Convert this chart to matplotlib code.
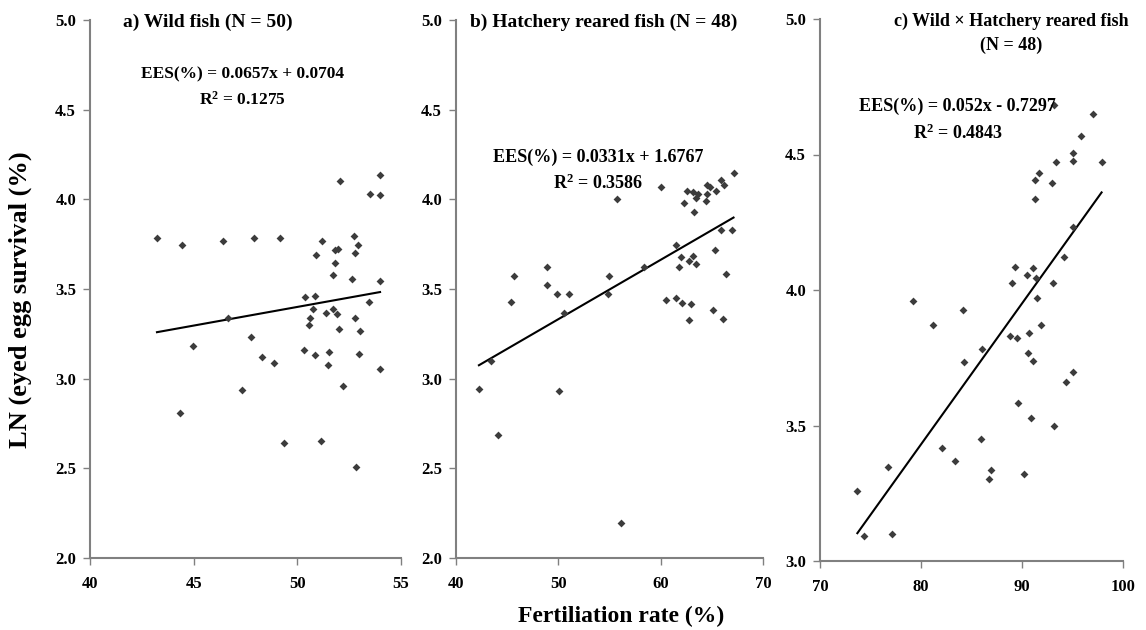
import matplotlib
matplotlib.use("Agg")
import matplotlib.pyplot as plt
import numpy as np

plt.rcParams['font.family'] = ['Liberation Serif', 'DejaVu Serif']
plt.rcParams['font.weight'] = 'bold'
plt.rcParams.update({'mathtext.fontset': 'custom', 'mathtext.rm': 'Liberation Serif:bold',
                     'mathtext.bf': 'Liberation Serif:bold', 'mathtext.it': 'Liberation Serif:bold'})

# ---- data ----
wild_x = [43.23, 44.44, 44.98, 44.34, 46.42, 47.91, 49.15, 52.05, 51.21, 50.92,
          51.82, 51.95, 51.80, 51.71, 52.64, 50.37, 50.84, 50.76, 51.71, 51.38,
          51.90, 50.60, 50.55, 52.00, 46.66, 47.77, 48.31, 48.89, 50.32, 50.84,
          51.53, 51.48, 52.22, 47.35, 49.36, 51.16, 53.99, 53.52, 53.99, 52.72,
          52.93, 52.77, 53.99, 53.47, 52.78, 53.02, 52.98, 53.99, 52.83]
wild_y = [3.786, 3.747, 3.180, 2.810, 3.769, 3.786, 3.786, 4.100, 3.765, 3.690,
          3.715, 3.725, 3.647, 3.578, 3.555, 3.457, 3.460, 3.390, 3.390, 3.364,
          3.358, 3.338, 3.300, 3.276, 3.338, 3.234, 3.123, 3.090, 3.160, 3.134,
          3.148, 3.074, 2.960, 2.935, 2.640, 2.650, 4.133, 4.031, 4.026, 3.797,
          3.743, 3.700, 3.544, 3.425, 3.338, 3.265, 3.139, 3.052, 2.505]

hatch_x = [55.74, 48.85, 45.66, 48.85, 45.37, 49.89, 51.09, 50.51, 54.96, 54.90,
           43.38, 42.24, 50.05, 44.13, 60.07, 67.12, 62.57, 63.19, 63.61, 63.48,
           62.24, 63.29, 64.52, 64.78, 64.55, 64.46, 65.43, 65.92, 66.15, 65.92,
           66.96, 61.49, 65.34, 61.95, 61.76, 62.73, 63.19, 63.41, 58.34, 66.37,
           60.55, 61.49, 62.05, 63.00, 65.07, 66.12, 62.80, 56.10]
hatch_y = [4.001, 3.624, 3.570, 3.522, 3.425, 3.470, 3.470, 3.366, 3.570, 3.470,
           3.100, 2.944, 2.933, 2.688, 4.071, 4.148, 4.049, 4.040, 4.029, 4.005,
           3.982, 3.932, 4.081, 4.070, 4.032, 3.992, 4.047, 4.107, 4.081, 3.830,
           3.830, 3.747, 3.719, 3.681, 3.624, 3.657, 3.684, 3.641, 3.624, 3.585,
           3.440, 3.450, 3.423, 3.414, 3.383, 3.332, 3.329, 2.194]

cross_x = [97.01, 95.85, 95.06, 95.06, 97.88, 93.34, 92.98, 91.66, 91.26, 91.26,
           93.14, 95.06, 94.14, 89.35, 91.09, 90.50, 91.39, 89.05, 93.02, 91.52,
           79.16, 84.12, 81.14, 91.92, 88.81, 89.47, 90.66, 86.00, 90.60, 91.09,
           84.25, 95.06, 94.31, 89.60, 90.93, 93.17, 85.90, 82.10, 83.39, 76.75,
           86.89, 90.24, 86.70, 73.70, 74.39, 77.17]
cross_y = [4.648, 4.569, 4.504, 4.476, 4.473, 4.473, 4.394, 4.431, 4.406, 4.336,
           4.683, 4.234, 4.121, 4.086, 4.080, 4.055, 4.045, 4.025, 4.025, 3.972,
           3.961, 3.926, 3.871, 3.871, 3.830, 3.823, 3.840, 3.784, 3.766, 3.737,
           3.734, 3.699, 3.659, 3.582, 3.529, 3.499, 3.450, 3.418, 3.369, 3.348,
           3.335, 3.320, 3.301, 3.259, 3.093, 3.101]

# trend line coefficients (slope, intercept) as drawn
fit_a = [0.0208, 2.36]
fit_b = [0.0331, 1.6767]
fit_c = [0.052, -0.7297]

titles = ["a) Wild fish (N = 50)", "b) Hatchery reared fish (N = 48)",
          "c) Wild \u00d7 Hatchery reared fish\n(N = 48)"]
equations = ["EES(%) = 0.0657x + 0.0704", "EES(%) = 0.0331x + 1.6767",
             "EES(%) = 0.052x - 0.7297"]
r2_texts = ["R$^{\\mathbf{2}}$ = 0.1275", "R$^{\\mathbf{2}}$ = 0.3586",
            "R$^{\\mathbf{2}}$ = 0.4843"]
xticks_list = [[40, 45, 50, 55], [40, 50, 60, 70], [70, 80, 90, 100]]
yticks_ab = [2.0, 2.5, 3.0, 3.5, 4.0, 4.5, 5.0]
yticks_c = [3.0, 3.5, 4.0, 4.5, 5.0]

fig = plt.figure(figsize=(11.46, 6.30), dpi=100)
W, H = 1146, 630
boxes = [(90, 401), (456, 763), (820, 1123)]
ybot = [558, 558, 561]
ytop = [20, 20, 19]

datasets = [(wild_x, wild_y, fit_a), (hatch_x, hatch_y, fit_b), (cross_x, cross_y, fit_c)]
eq_pos = [(0.49, 0.898, 0.851, 12.5), (0.464, 0.745, 0.697, 13), (0.455, 0.838, 0.79, 13)]
title_pos = [(0.106, 0.996, 'left', 14), (0.046, 0.996, 'left', 14), (0.63, 0.974, 'center', 13)]

for i, ((x0, x1), yb, yt, (xs, ys, fit)) in enumerate(zip(boxes, ybot, ytop, datasets)):
    ax = fig.add_axes([x0 / W, 1 - yb / H, (x1 - x0) / W, (yb - yt) / H])
    ax.scatter(xs, ys, marker='D', s=16, color='#3c3c3c', zorder=3, linewidths=0)
    lx = np.array([min(xs), max(xs)])
    ax.plot(lx, fit[0] * lx + fit[1], color='black', lw=1.5, zorder=2)
    xt = xticks_list[i]
    ax.set_xlim(xt[0], xt[-1])
    ax.set_xticks(xt)
    if i < 2:
        ax.set_ylim(2.0, 5.0)
        ax.set_yticks(yticks_ab)
    else:
        ax.set_ylim(3.0, 5.0)
        ax.set_yticks(yticks_c)
    ax.yaxis.set_major_formatter(matplotlib.ticker.FormatStrFormatter('%.1f'))
    for s in ['top', 'right']:
        ax.spines[s].set_visible(False)
    for s in ['left', 'bottom']:
        ax.spines[s].set_color('#808080')
        ax.spines[s].set_linewidth(1.5)
    ax.tick_params(axis='both', direction='out', length=5, width=1, color='#808080',
                   labelsize=12, pad=5)
    ax.tick_params(axis='x', pad=8)
    for lab in ax.get_xticklabels() + ax.get_yticklabels():
        lab.set_fontweight('bold')
    tx, ty, ha, fs = title_pos[i]
    ax.text(tx, ty, titles[i], transform=ax.transAxes, ha=ha, va='center',
            fontsize=fs, fontweight='bold', linespacing=1.5, multialignment='center',
            clip_on=False)
    ex, ey, ry, efs = eq_pos[i]
    ax.text(ex, ey, equations[i], transform=ax.transAxes, ha='center', va='center',
            fontsize=efs, fontweight='bold')
    ax.text(ex, ry, r2_texts[i], transform=ax.transAxes, ha='center', va='center',
            fontsize=efs, fontweight='bold')

fig.text(0.542, 0.021, "Fertiliation rate (%)", ha='center', va='center',
         fontsize=17, fontweight='bold')
fig.text(0.018, 0.525, "LN (eyed egg survival (%)", ha='center', va='center',
         rotation=90, fontsize=19, fontweight='bold')

fig.savefig("out.png", dpi=100)
